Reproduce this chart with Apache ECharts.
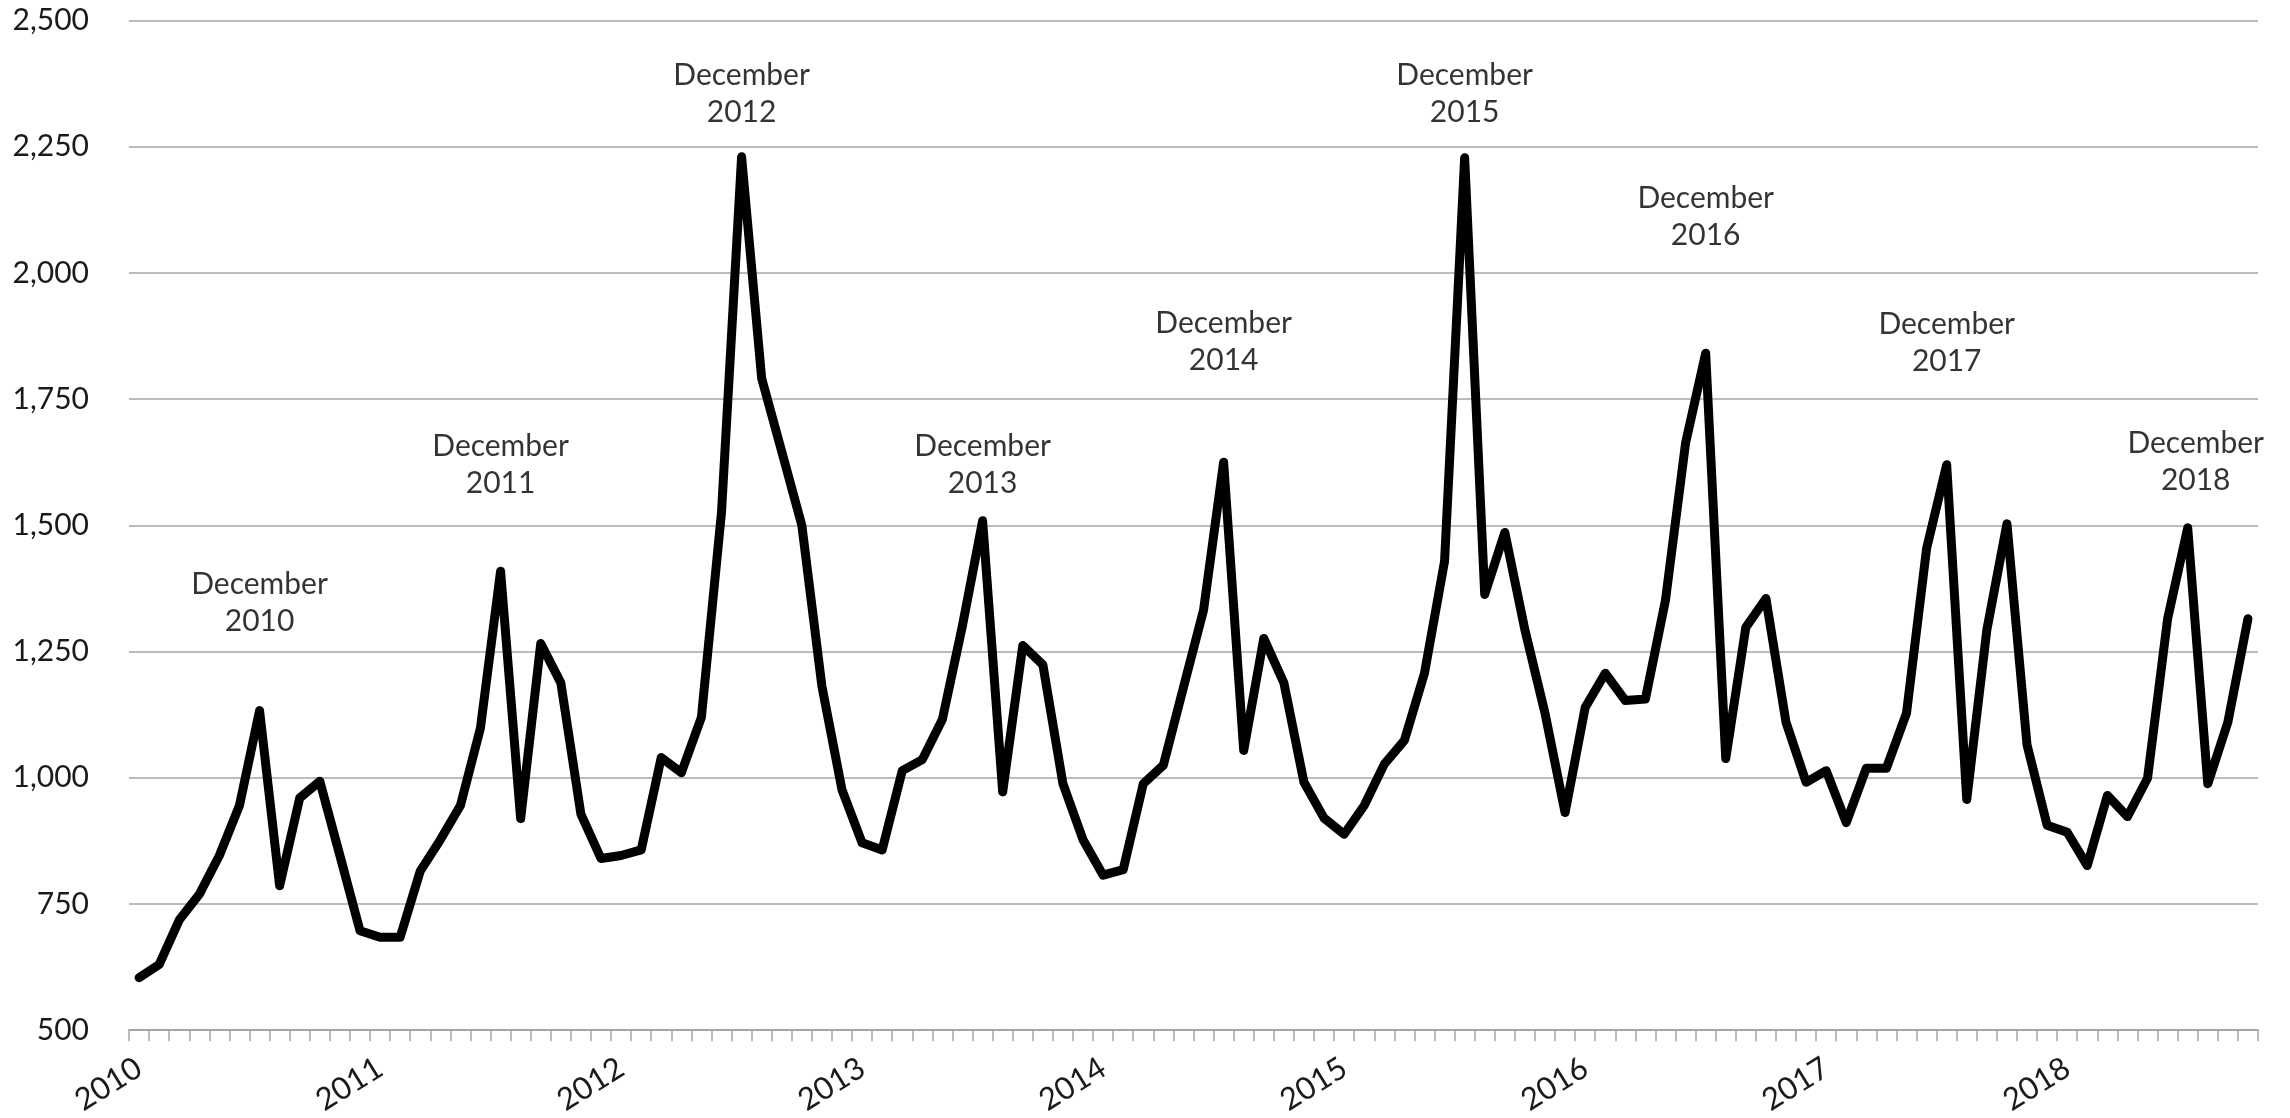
<!DOCTYPE html>
<html>
<head>
<meta charset="utf-8">
<script src="https://cdn.jsdelivr.net/npm/echarts@6/dist/echarts.min.js"></script>
<style>
html,body{margin:0;padding:0;background:#fff;}
#chart{width:2290px;height:1118px;}
</style>
</head>
<body>
<div id="chart"></div>
<script>
// ---- data ----
const startYear = 2010;
const yearLabels = ['2010','2011','2012','2013','2014','2015','2016','2017','2018'];
const values = [
  604, 630, 718, 769, 846, 945, 1133, 786, 960, 993, 846, 697,
  684, 684, 815, 877, 945, 1099, 1409, 919, 1266, 1188, 928, 840,
  846, 857, 1040, 1010, 1120, 1526, 2230, 1791, 1646, 1500, 1181, 976,
  871, 857, 1014, 1036, 1116, 1302, 1509, 972, 1262, 1224, 988, 877,
  807, 818, 988, 1025, 1179, 1332, 1625, 1054, 1276, 1188, 991, 920,
  888, 945, 1027, 1074, 1207, 1429, 2228, 1363, 1486, 1293, 1128, 931,
  1139, 1207, 1153, 1156, 1352, 1663, 1841, 1038, 1298, 1355, 1110, 991,
  1014, 911, 1019, 1019, 1128, 1454, 1620, 957, 1293, 1503, 1065, 906,
  892, 826, 965, 923, 999, 1315, 1495, 988, 1110, 1315
];
const yTicks = [500, 750, 1000, 1250, 1500, 1750, 2000, 2250, 2500];
// annotations: label year, category index of the peak, value at which the label sits
const annoYears  = ['2010','2011','2012','2013','2014','2015','2016','2017','2018'];
const annoIndex  = [6, 18, 30, 42, 54, 66, 78, 90, 102];
const annoValue  = [1347, 1620, 2355, 1620, 1864, 2355, 2111, 1861, 1626];

// ---- build ----
const categories = values.map((v, i) => {
  const y = startYear + Math.floor(i / 12);
  const m = (i % 12) + 1;
  return y + '-' + (m < 10 ? '0' + m : m);
});
const FONT = 'Lato, "Open Sans", sans-serif';

const annoData = annoYears.map((yr, k) => {
  const item = { value: [annoIndex[k], annoValue[k]], name: 'December\n' + yr };
  if (k === annoYears.length - 1) item.label = { offset: [8, 0] };
  return item;
});

const chart = echarts.init(document.getElementById('chart'), null, { renderer: 'canvas' });
chart.setOption({
  animation: false,
  backgroundColor: '#ffffff',
  grid: { left: 129, right: 32, top: 20.5, bottom: 87, containLabel: false },
  xAxis: {
    type: 'category',
    data: categories,
    boundaryGap: true,
    axisLine: { show: true, lineStyle: { color: '#a6a6a6', width: 2 } },
    axisTick: { show: true, interval: 0, length: 11, lineStyle: { color: '#a6a6a6', width: 1.5 } },
    axisLabel: {
      interval: 11,
      rotate: 32,
      margin: 35,
      fontFamily: FONT,
      fontSize: 31,
      color: '#1a1a1a',
      formatter: (v) => v.slice(0, 4)
    },
    splitLine: { show: false }
  },
  yAxis: {
    type: 'value',
    min: yTicks[0],
    max: yTicks[yTicks.length - 1],
    interval: yTicks[1] - yTicks[0],
    axisLine: { show: false },
    axisTick: { show: false },
    axisLabel: {
      margin: 40,
      fontFamily: FONT,
      fontSize: 30,
      color: '#1a1a1a',
      formatter: (v) => v.toLocaleString('en-US')
    },
    splitLine: { show: true, lineStyle: { color: '#a6a6a6', width: 1.5 } }
  },
  series: [
    {
      type: 'line',
      data: values,
      showSymbol: false,
      symbol: 'none',
      lineStyle: { color: '#000000', width: 9, cap: 'round', join: 'round' },
      z: 3
    },
    {
      type: 'scatter',
      data: annoData,
      symbolSize: 0,
      silent: true,
      label: {
        show: true,
        position: 'inside',
        formatter: (p) => p.name,
        fontFamily: FONT,
        fontSize: 30,
        lineHeight: 37,
        color: '#000000',
        align: 'center',
        verticalAlign: 'middle'
      },
      z: 4
    }
  ]
});
</script>
</body>
</html>
